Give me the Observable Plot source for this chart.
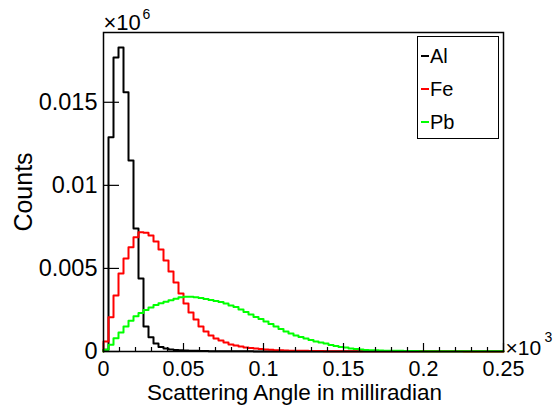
<!DOCTYPE html>
<html><head><meta charset="utf-8">
<script src="https://cdn.jsdelivr.net/npm/d3@7"></script>
<script src="https://cdn.jsdelivr.net/npm/@observablehq/plot@0.6"></script>
<style>
body{margin:0;background:#fff;}
#wrap{position:relative;width:558px;height:406px;font-family:"Liberation Sans",Arial,Helvetica,sans-serif;}
#wrap svg{font-family:"Liberation Sans",Arial,Helvetica,sans-serif;}
#legend{position:absolute;left:417px;top:36px;width:82px;height:103px;border:1.5px solid #000;background:#fff;box-sizing:border-box;}
.item{position:absolute;left:3px;height:20px;font-size:20px;line-height:20px;display:flex;align-items:center;color:#000;}
.sw{display:inline-block;width:8px;height:2px;margin-right:1px;}
</style></head><body><div id="wrap"></div>
<script>
const xMin = 0, xMax = 0.25, nBins = 80;
const seriesNames = ["Al", "Fe", "Pb"];
const seriesColors = ["#000000", "#ff0000", "#00ff00"];

const al = [0.0001, 0.0129, 0.0177, 0.0183, 0.0156, 0.0115, 0.0074, 0.0044, 0.0015, 0.00086,
  0.00048, 0.00027, 0.00018, 0.00012, 0.00009, 0.00007, 0.00006, 0.00005, 0.00004, 0.00003,
  0.00003, 0.00002, 0.00002, 0.00002, 0.00001, 0.00001, 0.00001, 0.00001, 0.00001, 0.00001,
  0, 0, 0, 0, 0, 0, 0, 0, 0, 0,
  0, 0, 0, 0, 0, 0, 0, 0, 0, 0,
  0, 0, 0, 0, 0, 0, 0, 0, 0, 0,
  0, 0, 0, 0, 0, 0, 0, 0, 0, 0,
  0, 0, 0, 0, 0, 0, 0, 0, 0, 0];

const fe = [0.0006, 0.00206, 0.00337, 0.00469, 0.0056, 0.00628, 0.00688, 0.00718, 0.00715, 0.00698,
  0.00662, 0.00614, 0.00548, 0.00481, 0.00415, 0.00349, 0.00289, 0.00235, 0.00193, 0.0015,
  0.0012, 0.00096, 0.00078, 0.00066, 0.00054, 0.00042, 0.00036, 0.0003, 0.00024, 0.00021,
  0.00018, 0.00015, 0.00012, 0.0001, 0.00008, 0.00007, 0.00006, 0.00005, 0.00005, 0.00004,
  0.00004, 0.00003, 0.00003, 0.00003, 0.00002, 0.00002, 0.00002, 0.00002, 0.00002, 0.00001,
  0.00001, 0.00001, 0.00001, 0.00001, 0.00001, 0.00001, 0.00001, 0.00001, 0.00001, 0.00001,
  0.00001, 0.00001, 0.00001, 0.00001, 0.00001, 0.00001, 0.00001, 0.00001, 0.00001, 0.00001,
  0.00001, 0.00001, 0, 0, 0, 0, 0, 0, 0, 0];

const pb = [0.0001, 0.0004, 0.0008, 0.00115, 0.0015, 0.00185, 0.00212, 0.00232, 0.0025, 0.00265,
  0.0028, 0.0029, 0.003, 0.00308, 0.00318, 0.00326, 0.0033, 0.00329, 0.00326, 0.00322,
  0.00316, 0.0031, 0.00304, 0.00298, 0.00289, 0.00277, 0.00268, 0.00253, 0.00238, 0.00223,
  0.00208, 0.00196, 0.00181, 0.00165, 0.0015, 0.00135, 0.0012, 0.00108, 0.00096, 0.00087,
  0.00078, 0.00069, 0.0006, 0.00054, 0.00048, 0.00039, 0.00033, 0.00027, 0.00024, 0.00018,
  0.00015, 0.00012, 0.00009, 0.00008, 0.00007, 0.00006, 0.00005, 0.00005, 0.00004, 0.00004,
  0.00003, 0.00003, 0.00003, 0.00002, 0.00002, 0.00002, 0.00002, 0.00002, 0.00001, 0.00001,
  0.00001, 0.00001, 0.00001, 0.00001, 0.00001, 0.00001, 0.00001, 0.00001, 0.00001, 0.00001];

const xTicks = [0, 0.05, 0.1, 0.15, 0.2, 0.25];
const xTickLabels = ["0", "0.05", "0.1", "0.15", "0.2", "0.25"];
const xMinorTicks = [0.01, 0.02, 0.03, 0.04, 0.06, 0.07, 0.08, 0.09, 0.11, 0.12, 0.13, 0.14,
  0.16, 0.17, 0.18, 0.19, 0.21, 0.22, 0.23, 0.24];
const yTicks = [0, 0.005, 0.01, 0.015];
const yTickLabels = ["0", "0.005", "0.01", "0.015"];
const xTitle = "Scattering Angle in milliradian";
const yTitle = "Counts";

const binW = (xMax - xMin) / nBins;
function outline(vals, name) {
  const pts = [{x: xMin, y: 0, s: name}];
  vals.forEach((v, i) => pts.push({x: xMin + i * binW, y: v, s: name}));
  pts.push({x: xMax, y: vals[vals.length - 1], s: name});
  return pts;
}
const allSeries = [al, fe, pb];

const plot = Plot.plot({
  width: 558, height: 406,
  marginLeft: 103, marginRight: 55, marginTop: 32, marginBottom: 55,
  x: {domain: [xMin, xMax], axis: null},
  y: {domain: [0, 0.0192], axis: null},
  style: {fontFamily: '"Liberation Sans", Arial, sans-serif', background: "#fff"},
  marks: [
    ...allSeries.map((vals, k) => Plot.lineY(outline(vals, seriesNames[k]), {
      x: "x", y: "y", curve: "step-after", stroke: seriesColors[k], strokeWidth: 2
    })),
    Plot.frame({stroke: "#000", strokeWidth: 1.5}),
    Plot.ruleX(xTicks, {x: d => d, y1: 0, y2: 0, insetTop: -8, stroke: "#000", strokeWidth: 1.2}),
    Plot.ruleX(xMinorTicks, {x: d => d, y1: 0, y2: 0, insetTop: -4, stroke: "#000", strokeWidth: 1.2}),
    Plot.ruleY(yTicks, {y: d => d, x1: xMin, x2: xMin, insetRight: -16, stroke: "#000", strokeWidth: 1.2}),
    Plot.text(xTicks, {x: d => d, frameAnchor: "bottom", lineAnchor: "top", dy: 9,
      text: (d, i) => xTickLabels[i], fontSize: 21.5, fill: "#000"}),
    Plot.text(yTicks, {y: d => d, frameAnchor: "left", textAnchor: "end", dx: -6,
      text: (d, i) => yTickLabels[i], fontSize: 23.5, fill: "#000"}),
    Plot.text([xTitle], {frameAnchor: "bottom", textAnchor: "middle", lineAnchor: "bottom", dy: 48, dx: -9,
      text: d => d, fontSize: 22.5, fill: "#000"}),
    Plot.text([yTitle], {frameAnchor: "left", textAnchor: "middle", lineAnchor: "middle", rotate: -90, dx: -80,
      text: d => d, fontSize: 25, fill: "#000"}),
    Plot.text(["\u00d710"], {frameAnchor: "top-left", textAnchor: "start", lineAnchor: "bottom",
      dy: -3, dx: 0, text: d => d, fontSize: 22, fill: "#000"}),
    Plot.text(["6"], {frameAnchor: "top-left", textAnchor: "start", lineAnchor: "bottom",
      dy: -14, dx: 39, text: d => d, fontSize: 14, fill: "#000"}),
    Plot.text(["\u00d710"], {frameAnchor: "bottom-right", textAnchor: "start", lineAnchor: "bottom",
      dy: 3, dx: 2, text: d => d, fontSize: 21, fill: "#000"}),
    Plot.text(["3"], {frameAnchor: "bottom-right", textAnchor: "start", lineAnchor: "bottom",
      dy: -10, dx: 41, text: d => d, fontSize: 14, fill: "#000"})
  ]
});
const wrap = document.getElementById("wrap");
wrap.appendChild(plot);

const legend = document.createElement("div");
legend.id = "legend";
const legendTops = [9, 42, 75];
seriesNames.forEach((name, k) => {
  const it = document.createElement("div");
  it.className = "item";
  it.style.top = legendTops[k] + "px";
  const sw = document.createElement("span");
  sw.className = "sw";
  sw.style.background = seriesColors[k];
  it.appendChild(sw);
  it.appendChild(document.createTextNode(name));
  legend.appendChild(it);
});
wrap.appendChild(legend);
</script></body></html>
